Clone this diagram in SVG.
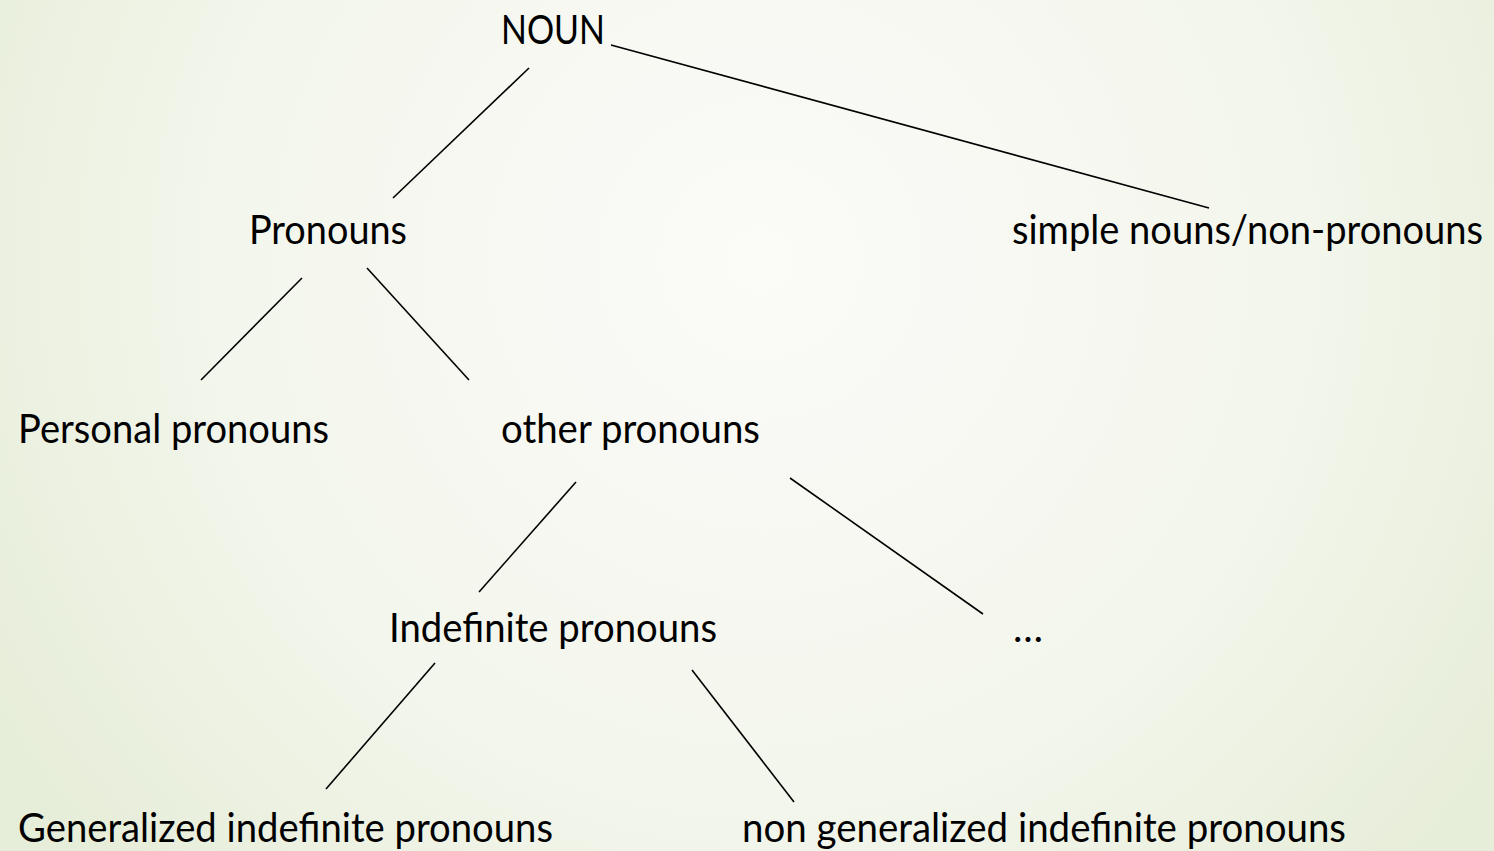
<svg xmlns="http://www.w3.org/2000/svg" width="1494" height="851" viewBox="0 0 1494 851">
<defs>
<radialGradient id="bg" gradientUnits="userSpaceOnUse" cx="760" cy="260" r="900">
<stop offset="0" stop-color="#fbfbf8"/>
<stop offset="0.6" stop-color="#f3f6ec"/>
<stop offset="1" stop-color="#e6edd8"/>
</radialGradient>
<style>
text{font-family:Lato,"Liberation Sans",sans-serif;font-size:40px;fill:#000;}
line{stroke:#000;stroke-width:1.6;}
</style>
</defs>
<rect width="1494" height="851" fill="url(#bg)"/>
<g id="connectors">
<line x1="529" y1="68" x2="393" y2="198"/>
<line x1="611" y1="45" x2="1209" y2="208"/>
<line x1="302" y1="278" x2="201" y2="380"/>
<line x1="367" y1="268" x2="469" y2="380"/>
<line x1="576" y1="482" x2="479" y2="592"/>
<line x1="790" y1="478" x2="983" y2="614"/>
<line x1="435" y1="663" x2="326" y2="789"/>
<line x1="692" y1="670" x2="794" y2="802"/>
</g>
<g id="noun"><text x="501" y="44" textLength="104" lengthAdjust="spacingAndGlyphs">NOUN</text></g>
<g id="pronouns"><text x="249" y="244" textLength="158" lengthAdjust="spacingAndGlyphs">Pronouns</text></g>
<g id="simple"><text x="1012" y="244" textLength="471" lengthAdjust="spacingAndGlyphs">simple nouns/non-pronouns</text></g>
<g id="personal"><text x="18" y="443" textLength="311" lengthAdjust="spacingAndGlyphs">Personal pronouns</text></g>
<g id="other"><text x="501" y="443" textLength="259" lengthAdjust="spacingAndGlyphs">other pronouns</text></g>
<g id="indefinite"><text x="389" y="642" textLength="328" lengthAdjust="spacingAndGlyphs">Indefinite pronouns</text></g>
<g id="ellipsis"><text x="1013" y="642">…</text></g>
<g id="generalized"><text x="18" y="842" textLength="535" lengthAdjust="spacingAndGlyphs">Generalized indefinite pronouns</text></g>
<g id="nongeneralized"><text x="742" y="842" textLength="604" lengthAdjust="spacingAndGlyphs">non generalized indefinite pronouns</text></g>
</svg>
